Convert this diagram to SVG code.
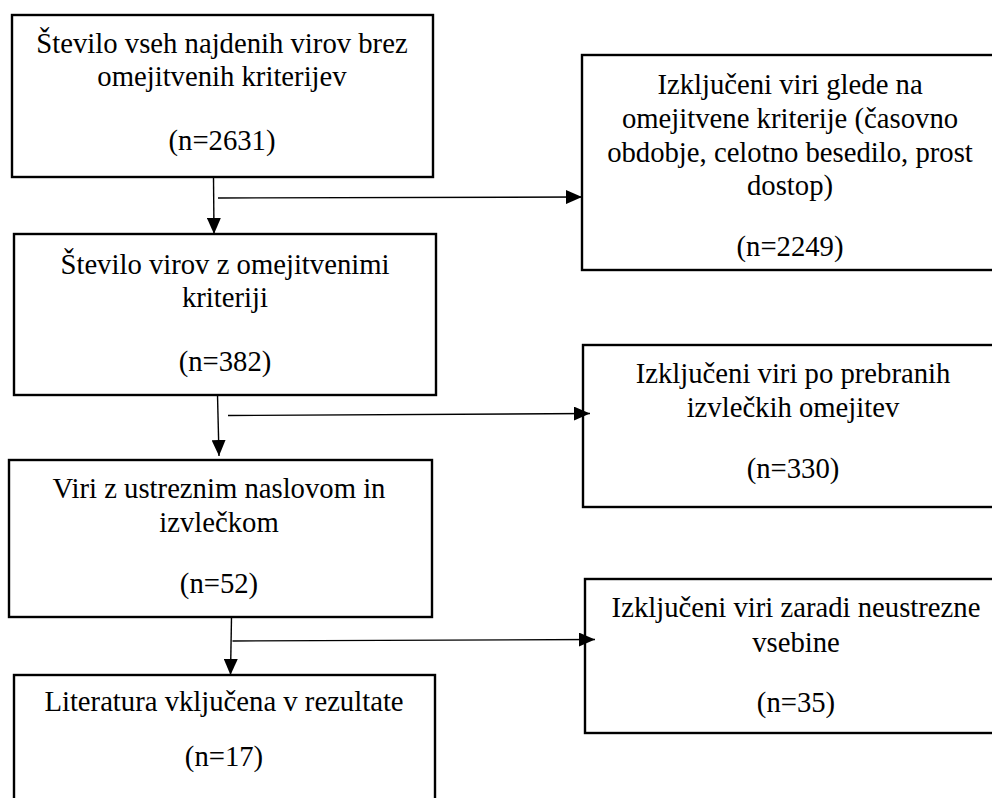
<svg xmlns="http://www.w3.org/2000/svg" width="992" height="798" viewBox="0 0 992 798">
<style>
.box{fill:#fff;stroke:#000;stroke-width:2.4}
.t{font-family:"Liberation Serif","Times New Roman",serif;font-size:28.7px;fill:#000;text-anchor:middle}
.c{stroke:#000;stroke-width:1.4;fill:none}
</style>
<defs>
<marker id="ah" markerWidth="16" markerHeight="14" refX="16" refY="7" orient="auto" markerUnits="userSpaceOnUse">
<path d="M0,0 L16,7 L0,14 Z" fill="#000"/>
</marker>
</defs>
<rect width="992" height="798" fill="#fff"/>
<g id="n1">
<rect class="box" x="12" y="15" width="421" height="162"/>
<text class="t" x="222" y="53">Število vseh najdenih virov brez</text>
<text class="t" x="222" y="86">omejitvenih kriterijev</text>
<text class="t" x="222" y="150">(n=2631)</text>
</g>
<g id="n2">
<rect class="box" x="14" y="234" width="422" height="161"/>
<text class="t" x="225" y="274">Število virov z omejitvenimi</text>
<text class="t" x="225" y="307">kriteriji</text>
<text class="t" x="225" y="371">(n=382)</text>
</g>
<g id="n3">
<rect class="box" x="582" y="55" width="420" height="215"/>
<text class="t" x="790" y="94">Izključeni viri glede na</text>
<text class="t" x="790" y="128">omejitvene kriterije (časovno</text>
<text class="t" x="790" y="162">obdobje, celotno besedilo, prost</text>
<text class="t" x="790" y="195">dostop)</text>
<text class="t" x="790" y="256">(n=2249)</text>
</g>
<g id="n4">
<rect class="box" x="583" y="345" width="420" height="162"/>
<text class="t" x="793" y="383">Izključeni viri po prebranih</text>
<text class="t" x="793" y="417">izvlečkih omejitev</text>
<text class="t" x="793" y="478">(n=330)</text>
</g>
<g id="n5">
<rect class="box" x="9" y="460" width="423" height="157"/>
<text class="t" x="219" y="498">Viri z ustreznim naslovom in</text>
<text class="t" x="219" y="532">izvlečkom</text>
<text class="t" x="219" y="593">(n=52)</text>
</g>
<g id="n6">
<rect class="box" x="585" y="579" width="420" height="154"/>
<text class="t" x="796" y="617">Izključeni viri zaradi neustrezne</text>
<text class="t" x="796" y="652">vsebine</text>
<text class="t" x="796" y="712">(n=35)</text>
</g>
<g id="n7">
<rect class="box" x="14" y="675" width="421" height="140"/>
<text class="t" x="224" y="711">Literatura vključena v rezultate</text>
<text class="t" x="224" y="766">(n=17)</text>
</g>
<g id="connectors">
<line class="c" x1="213.5" y1="177" x2="214" y2="234" marker-end="url(#ah)"/>
<line class="c" x1="218" y1="198" x2="582" y2="197" marker-end="url(#ah)"/>
<line class="c" x1="217.5" y1="395" x2="219" y2="456" marker-end="url(#ah)"/>
<line class="c" x1="228" y1="415.5" x2="590" y2="413.5" marker-end="url(#ah)"/>
<line class="c" x1="231.5" y1="617" x2="230.5" y2="675" marker-end="url(#ah)"/>
<line class="c" x1="232.5" y1="641" x2="595" y2="639.5" marker-end="url(#ah)"/>
</g>
</svg>
